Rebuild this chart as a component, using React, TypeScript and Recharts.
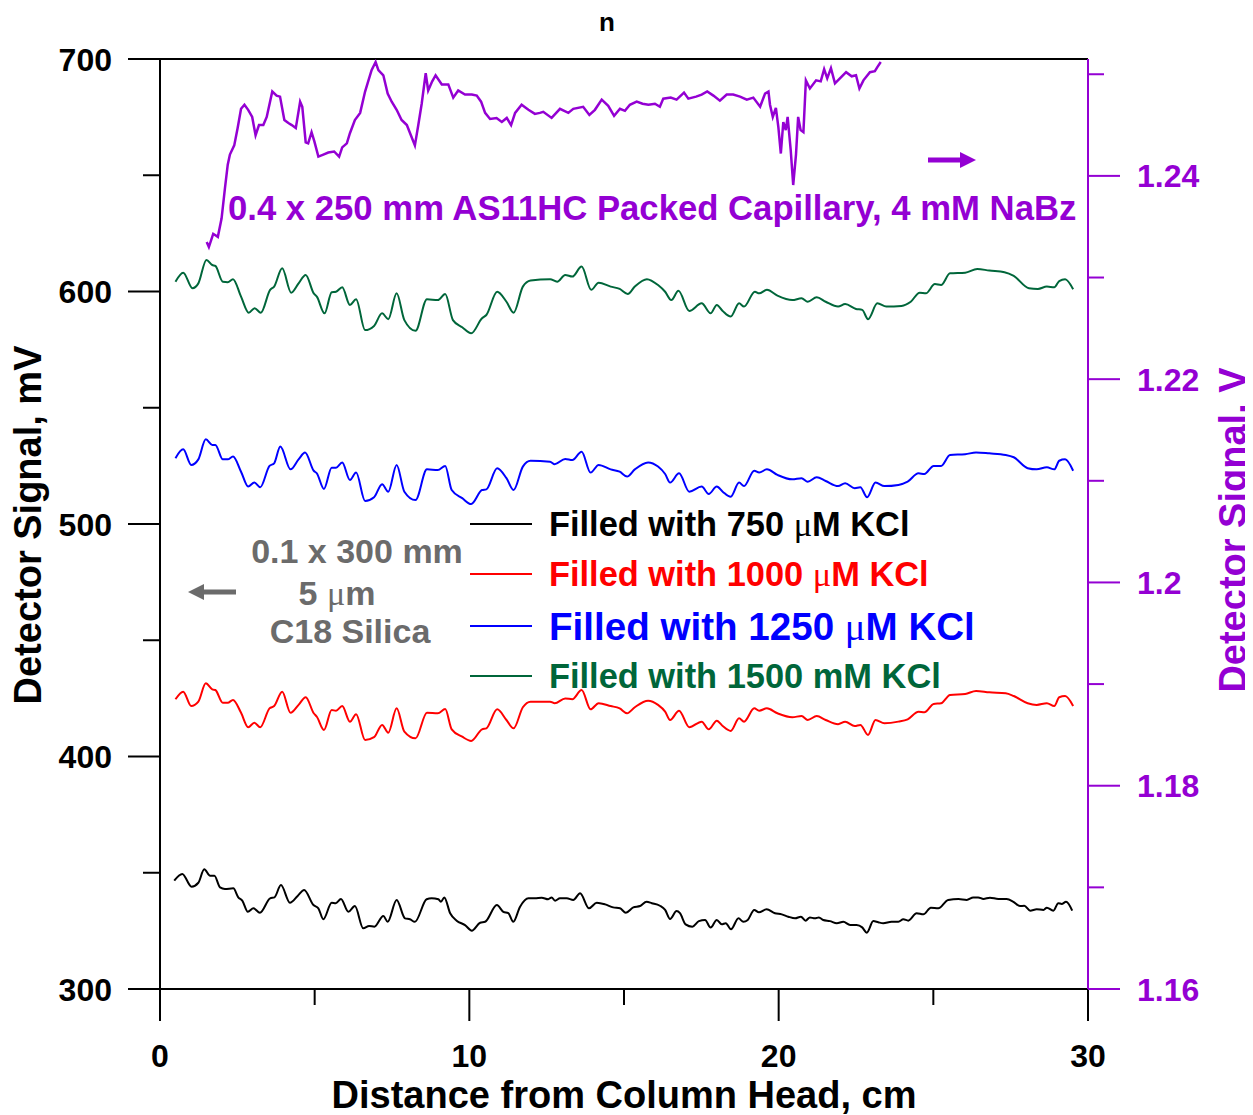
import React from 'react';
import { LineChart, Line, XAxis, YAxis, ReferenceLine } from 'recharts';

// ---------- data ----------
const xTicks = [0, 5, 10, 15, 20, 25, 30];
const leftTicks = [300, 350, 400, 450, 500, 550, 600, 650, 700];
const rightTicks = [1.16, 1.17, 1.18, 1.19, 1.2, 1.21, 1.22, 1.23, 1.24, 1.25];

const blackX = [0.46,0.72,1.02,1.24,1.43,1.62,1.76,1.94,2.10,2.37,2.53,2.66,2.84,3.02,3.23,3.56,3.70,3.91,4.20,4.45,4.66,4.96,5.12,5.28,5.55,5.68,5.85,6.09,6.30,6.57,6.76,6.93,7.22,7.36,7.65,7.92,8.08,8.24,8.62,8.78,9.00,9.08,9.19,9.38,9.59,9.86,10.08,10.35,10.51,10.89,11.10,11.26,11.42,11.64,11.91,12.12,12.34,12.55,12.66,12.77,12.93,13.15,13.36,13.58,13.87,14.12,14.39,14.65,14.87,15.06,15.30,15.52,15.73,15.90,16.16,16.33,16.49,16.70,16.81,16.99,17.21,17.42,17.62,17.80,18.00,18.16,18.29,18.46,18.70,18.86,19.00,19.21,19.36,19.61,19.88,20.10,20.31,20.53,20.72,20.87,21.01,21.17,21.30,21.44,21.66,21.88,22.09,22.31,22.52,22.70,22.85,23.06,23.22,23.38,23.65,23.87,24.03,24.19,24.46,24.68,24.92,25.16,25.48,25.81,26.08,26.29,26.45,26.62,26.83,27.10,27.37,27.59,27.80,27.94,28.13,28.34,28.56,28.67,28.88,29.04,29.15,29.29,29.49];
const blackY = [346.6,349.5,344.0,345.7,351.5,348.7,348.7,343.7,343.0,343.3,339.4,338.0,333.2,334.7,332.8,339.0,339.4,344.7,337.1,340.0,342.6,336.1,334.7,330.0,337.1,336.9,338.7,333.2,335.7,326.1,327.1,326.8,331.4,328.9,338.3,330.4,330.0,328.9,338.6,339.0,338.6,337.5,339.4,332.6,329.4,327.5,325.1,328.5,328.9,336.1,333.2,332.6,328.9,335.4,339.0,339.0,339.3,338.6,339.4,338.0,339.0,339.0,338.3,341.2,334.7,337.1,336.4,335.1,334.7,332.8,335.1,335.7,337.5,336.9,335.8,334.0,330.1,333.5,332.6,327.8,326.8,329.2,329.7,326.4,329.7,327.8,328.3,325.7,330.4,328.9,329.7,334.0,333.0,334.3,332.6,332.1,331.1,330.4,331.1,329.4,330.8,330.4,330.8,329.7,329.2,328.3,328.9,327.5,327.5,326.5,324.2,329.2,328.7,328.3,328.9,328.9,330.0,329.4,332.6,332.1,335.0,334.7,338.3,338.7,338.3,339.4,339.4,338.7,339.3,338.7,338.7,337.5,335.7,335.8,333.7,334.3,334.0,335.0,333.7,336.9,336.6,337.5,333.7];

const greenX = [0.50,0.75,1.05,1.24,1.50,1.69,1.79,2.03,2.19,2.36,2.62,2.87,3.06,3.26,3.56,3.69,3.95,4.24,4.48,4.71,4.97,5.07,5.32,5.55,5.69,5.89,6.14,6.34,6.63,6.92,7.18,7.38,7.65,7.90,8.26,8.63,8.98,9.22,9.47,9.77,10.06,10.41,10.55,10.90,11.20,11.43,11.73,11.98,12.61,12.84,13.10,13.33,13.63,13.94,14.18,14.57,14.86,15.12,15.35,15.74,16.10,16.33,16.53,16.76,17.11,17.51,17.80,18.00,18.19,18.45,18.72,18.88,19.23,19.37,19.62,19.96,20.44,20.74,20.94,21.23,21.52,21.92,22.15,22.50,22.70,22.89,23.19,23.48,23.97,24.27,24.56,24.76,25.05,25.25,25.54,26.03,26.42,26.81,27.30,27.60,28.09,28.38,28.67,28.91,29.07,29.26,29.52];
const greenY = [604.2,608.1,601.4,603.5,613.6,611.4,611.0,604.2,604.0,605.3,597.8,590.9,592.8,590.9,600.7,602.1,610.0,599.5,603.5,607.1,599.2,597.8,590.6,599.7,599.9,601.8,594.2,596.7,583.4,585.2,590.6,588.1,599.2,587.7,583.1,596.7,596.3,598.9,587.7,584.6,582.0,588.5,589.9,599.9,595.6,590.9,602.1,604.7,605.3,604.2,607.1,606.4,610.7,600.7,603.8,602.1,601.1,598.9,602.1,605.3,602.8,599.9,596.3,600.3,591.6,594.9,590.6,594.2,591.6,589.2,594.9,593.5,599.9,599.2,600.7,598.2,596.3,597.1,595.6,597.5,595.6,593.5,594.6,592.5,592.1,588.1,594.9,593.5,593.8,595.6,599.5,599.2,603.2,602.8,607.8,608.1,609.7,609.0,608.3,606.7,601.4,601.1,602.1,601.8,604.5,605.3,601.0];

const blueX = [0.50,0.75,1.01,1.24,1.48,1.69,1.79,2.03,2.19,2.36,2.62,2.85,3.05,3.24,3.54,3.69,3.89,4.22,4.48,4.69,4.97,5.07,5.30,5.55,5.69,5.89,6.14,6.34,6.63,6.92,7.18,7.38,7.65,7.90,8.26,8.63,8.98,9.22,9.43,9.77,10.06,10.41,10.55,10.90,11.20,11.43,11.73,11.98,12.61,12.76,13.10,13.33,13.63,13.92,14.18,14.57,14.86,15.10,15.35,15.78,16.10,16.33,16.49,16.78,17.11,17.51,17.74,18.00,18.19,18.45,18.72,18.88,19.21,19.37,19.62,19.96,20.44,20.74,20.94,21.23,21.52,21.92,22.15,22.46,22.64,22.86,23.13,23.42,23.87,24.17,24.52,24.71,25.01,25.25,25.54,26.03,26.38,26.81,27.34,27.60,28.05,28.34,28.67,28.91,29.07,29.26,29.52];
const blueY = [528.3,532.1,525.4,527.8,536.4,534.0,534.0,527.8,527.8,529.0,522.5,516.1,517.8,515.8,525.0,526.1,533.3,523.5,527.8,530.7,522.9,521.8,515.1,524.2,524.2,526.4,518.9,522.1,509.9,511.5,517.1,513.9,525.4,513.9,510.3,523.5,523.2,525.0,514.6,511.1,508.6,514.6,514.9,524.0,519.7,514.6,524.7,527.2,526.8,525.7,528.0,527.5,531.1,522.1,525.4,523.5,522.5,520.4,523.5,526.5,524.7,521.5,517.8,521.8,513.9,516.1,512.9,516.1,513.9,511.7,517.8,516.3,522.9,522.1,523.5,521.1,519.2,519.7,518.2,520.1,518.5,516.3,517.5,515.4,515.8,511.5,517.8,516.3,516.8,518.2,521.8,521.5,525.0,525.0,529.7,530.0,530.8,530.4,529.7,528.7,524.0,523.5,524.4,523.5,527.2,527.8,522.9];

const redX = [0.50,0.75,1.01,1.24,1.48,1.69,1.79,2.03,2.19,2.36,2.62,2.85,3.05,3.24,3.54,3.69,3.95,4.22,4.48,4.71,4.97,5.07,5.30,5.55,5.69,5.89,6.14,6.34,6.63,6.92,7.18,7.38,7.65,7.90,8.26,8.63,8.98,9.22,9.43,9.77,10.06,10.41,10.55,10.90,11.20,11.43,11.73,11.98,12.61,12.76,13.10,13.33,13.63,13.92,14.18,14.57,14.86,15.10,15.35,15.78,16.10,16.33,16.49,16.78,17.11,17.51,17.74,18.00,18.19,18.45,18.72,18.88,19.21,19.37,19.62,19.96,20.44,20.74,20.94,21.23,21.52,21.92,22.15,22.46,22.64,22.89,23.13,23.42,23.87,24.17,24.52,24.71,25.01,25.25,25.54,26.03,26.38,26.81,27.34,27.60,28.05,28.34,28.67,28.91,29.07,29.26,29.52];
const redY = [424.6,427.9,421.7,423.6,431.5,428.9,428.6,423.1,423.1,424.3,418.8,412.6,414.5,412.6,420.7,421.7,427.9,418.8,422.2,425.5,418.6,417.1,411.4,420.0,419.7,421.7,415.0,418.2,407.1,408.3,413.6,410.2,420.7,410.7,407.8,418.8,418.6,420.4,411.7,408.5,406.7,411.7,412.1,420.3,415.7,412.1,421.2,423.6,423.6,422.9,425.0,424.6,428.6,420.3,422.9,421.7,420.7,418.6,421.2,424.0,422.2,419.3,415.7,419.7,412.6,415.0,411.7,415.4,413.1,411.0,416.4,415.0,420.7,419.7,420.7,418.6,416.9,417.4,415.7,417.4,415.7,413.9,415.0,413.1,413.6,409.3,415.7,414.3,415.0,416.0,419.3,419.0,422.6,422.9,426.5,426.9,428.2,427.6,427.2,426.0,422.9,422.2,422.9,421.7,425.5,426.0,421.7];

const purpleX = [1.51,1.58,1.72,1.87,1.99,2.10,2.19,2.26,2.40,2.51,2.62,2.73,2.85,2.98,3.09,3.20,3.34,3.45,3.63,3.77,3.88,4.02,4.15,4.26,4.39,4.53,4.60,4.71,4.79,4.90,4.99,5.12,5.28,5.44,5.63,5.79,5.89,6.04,6.14,6.30,6.47,6.63,6.73,6.84,6.97,7.06,7.22,7.36,7.49,7.65,7.81,7.98,8.11,8.24,8.35,8.46,8.59,8.67,8.80,8.91,9.11,9.32,9.48,9.64,9.86,10.08,10.24,10.38,10.51,10.67,10.88,11.05,11.21,11.35,11.48,11.69,11.91,12.12,12.28,12.39,12.66,12.93,13.20,13.36,13.68,13.88,14.06,14.28,14.49,14.68,14.87,15.03,15.19,15.41,15.60,15.79,16.00,16.16,16.27,16.51,16.70,16.94,17.08,17.33,17.51,17.69,17.89,18.10,18.32,18.53,18.75,18.97,19.18,19.40,19.56,19.67,19.72,19.81,19.91,19.99,20.07,20.15,20.23,20.29,20.39,20.47,20.56,20.63,20.71,20.80,20.88,21.01,21.21,21.36,21.47,21.57,21.69,21.82,21.98,22.18,22.36,22.50,22.61,22.74,22.95,23.11,23.19,23.30];
const purpleY = [1.2335,1.2330,1.2343,1.2340,1.2358,1.2388,1.2411,1.2421,1.2430,1.2447,1.2466,1.2470,1.2465,1.2458,1.2440,1.2450,1.2450,1.2458,1.2483,1.2479,1.2478,1.2455,1.2452,1.2450,1.2447,1.2473,1.2468,1.2433,1.2432,1.2443,1.2434,1.2419,1.2421,1.2423,1.2424,1.2419,1.2428,1.2432,1.2442,1.2455,1.2462,1.2483,1.2493,1.2504,1.2512,1.2504,1.2499,1.2481,1.2473,1.2465,1.2455,1.2450,1.2440,1.2430,1.2450,1.2471,1.2501,1.2484,1.2493,1.2499,1.2490,1.2490,1.2477,1.2484,1.2480,1.2480,1.2479,1.2473,1.2462,1.2456,1.2457,1.2453,1.2457,1.2450,1.2462,1.2470,1.2465,1.2461,1.2462,1.2463,1.2457,1.2466,1.2462,1.2466,1.2468,1.2460,1.2465,1.2475,1.2469,1.2459,1.2466,1.2464,1.2470,1.2473,1.2471,1.2470,1.2471,1.2468,1.2476,1.2477,1.2475,1.2482,1.2476,1.2478,1.2480,1.2483,1.2479,1.2474,1.2480,1.2480,1.2478,1.2475,1.2477,1.2468,1.2481,1.2483,1.2470,1.2458,1.2467,1.2448,1.2422,1.2453,1.2445,1.2458,1.2425,1.2391,1.2421,1.2458,1.2445,1.2443,1.2494,1.2486,1.2494,1.2493,1.2505,1.2496,1.2506,1.2491,1.2496,1.2502,1.2498,1.2499,1.2486,1.2494,1.2502,1.2503,1.2507,1.2512];

// ---------- styling ----------
const W = 1237;
const H = 1107;
const PURPLE = '#9400d3';
const GREEN = '#00663a';
const GRAY = '#6b6b6b';
const FONT = 'Arial, "Liberation Sans", Helvetica, sans-serif';
const SERIF = '"Liberation Serif", "DejaVu Serif", serif';

const zip = (xs: number[], ys: number[]) => xs.map((x, i) => ({ x, y: ys[i] }));

const kcl750 = zip(blackX, blackY);
const kcl1000 = zip(redX, redY);
const kcl1250 = zip(blueX, blueY);
const kcl1500 = zip(greenX, greenY);
const nabz = zip(purpleX, purpleY);

const LeftTick = (props: any) => {
  const { x, y, payload } = props;
  const v = payload.value;
  const major = Math.round(v) % 100 === 0;
  const len = major ? 32 : 17;
  return (
    <g>
      <line x1={x} y1={y} x2={x - len} y2={y} stroke="#000" strokeWidth={2} />
      {major && (
        <text x={x - 48} y={y} dy="0.36em" textAnchor="end" fontSize={32} fontWeight="bold" fill="#000" fontFamily={FONT}>
          {v}
        </text>
      )}
    </g>
  );
};

const RightTick = (props: any) => {
  const { x, y, payload } = props;
  const v = payload.value;
  const major = Math.round(v * 100) % 2 === 0;
  const len = major ? 32 : 16;
  return (
    <g>
      <line x1={x} y1={y} x2={x + len} y2={y} stroke={PURPLE} strokeWidth={2} />
      {major && (
        <text x={x + 49} y={y} dy="0.36em" textAnchor="start" fontSize={32} fontWeight="bold" fill={PURPLE} fontFamily={FONT}>
          {String(Number(v.toFixed(2)))}
        </text>
      )}
    </g>
  );
};

const BottomTick = (props: any) => {
  const { x, y, payload } = props;
  const v = payload.value;
  const major = Math.round(v) % 10 === 0;
  const len = major ? 32 : 16;
  return (
    <g>
      <line x1={x} y1={y} x2={x} y2={y + len} stroke="#000" strokeWidth={2} />
      {major && (
        <text x={x} y={y + 66} dy="0.36em" textAnchor="middle" fontSize={32} fontWeight="bold" fill="#000" fontFamily={FONT}>
          {v}
        </text>
      )}
    </g>
  );
};

const legendRows = [
  { label: 'Filled with 750 ', unit: 'μ', rest: 'M KCl', color: '#000', size: 34.4, y: 516 },
  { label: 'Filled with 1000 ', unit: 'μ', rest: 'M KCl', color: '#ff0000', size: 34.4, y: 566 },
  { label: 'Filled with 1250 ', unit: 'μ', rest: 'M KCl', color: '#0000ff', size: 38.6, y: 618 },
  { label: 'Filled with 1500 ', unit: 'm', rest: 'M KCl', color: GREEN, size: 34.4, y: 668 },
];

export default function App() {
  return (
    <div style={{ position: 'relative', width: W, height: H, fontFamily: FONT }}>
      <LineChart width={W} height={H} margin={{ top: 51, right: 0, bottom: 0, left: 0 }}>
        <XAxis
          xAxisId="x"
          type="number"
          dataKey="x"
          domain={[0, 30]}
          ticks={xTicks}
          interval={0}
          height={126}
          tickLine={false}
          tickSize={0}
          tickMargin={0}
          tick={(p: any) => <BottomTick {...p} />}
          axisLine={{ stroke: '#000', strokeWidth: 2 }}
          allowDataOverflow
        />
        <YAxis
          yAxisId="left"
          orientation="left"
          type="number"
          domain={[300, 700]}
          ticks={leftTicks}
          interval={0}
          width={152}
          tickLine={false}
          tickSize={0}
          tickMargin={0}
          tick={(p: any) => <LeftTick {...p} />}
          axisLine={{ stroke: '#000', strokeWidth: 2 }}
          allowDataOverflow
        />
        <YAxis
          yAxisId="right"
          orientation="right"
          type="number"
          domain={[1.16, 1.2515]}
          ticks={rightTicks}
          interval={0}
          width={157}
          tickLine={false}
          tickSize={0}
          tickMargin={0}
          tick={(p: any) => <RightTick {...p} />}
          axisLine={{ stroke: PURPLE, strokeWidth: 2 }}
          allowDataOverflow
        />
        <ReferenceLine xAxisId="x" yAxisId="left" y={700} stroke="#000" strokeWidth={2} />
        <Line xAxisId="x" yAxisId="left" data={kcl750} dataKey="y" type="monotone" stroke="#000" strokeWidth={2} dot={false} isAnimationActive={false} />
        <Line xAxisId="x" yAxisId="left" data={kcl1000} dataKey="y" type="monotone" stroke="#ff0000" strokeWidth={2} dot={false} isAnimationActive={false} />
        <Line xAxisId="x" yAxisId="left" data={kcl1250} dataKey="y" type="monotone" stroke="#0000ff" strokeWidth={2} dot={false} isAnimationActive={false} />
        <Line xAxisId="x" yAxisId="left" data={kcl1500} dataKey="y" type="monotone" stroke={GREEN} strokeWidth={2} dot={false} isAnimationActive={false} />
        <Line xAxisId="x" yAxisId="right" data={nabz} dataKey="y" type="linear" stroke={PURPLE} strokeWidth={2.5} dot={false} isAnimationActive={false} />
      </LineChart>
      <svg
        width={W}
        height={H}
        style={{ position: 'absolute', left: 0, top: 0, pointerEvents: 'none', overflow: 'visible' }}
        fontFamily={FONT}
        fontWeight="bold"
      >
        <text x={599} y={14} dy="0.36em" textAnchor="middle" fontSize={26} fill="#000">n</text>
        <text x={19} y={517} dy="0.36em" textAnchor="middle" fontSize={38} fill="#000" transform="rotate(-90 19 517)">
          Detector Signal, mV
        </text>
        <text x={1224} y={522} dy="0.36em" textAnchor="middle" fontSize={38} fill={PURPLE} transform="rotate(-90 1224 522)">
          Detector Signal, V
        </text>
        <text x={616} y={1086} dy="0.36em" textAnchor="middle" fontSize={38} fill="#000">
          Distance from Column Head, cm
        </text>
        <text x={220} y={200} dy="0.36em" textAnchor="start" fontSize={34.7} fill={PURPLE}>
          0.4 x 250 mm AS11HC Packed Capillary, 4 mM NaBz
        </text>
        <line x1={920} y1={152} x2={954} y2={152} stroke={PURPLE} strokeWidth={5} />
        <polygon points="952,144 968,152 952,160" fill={PURPLE} />
        <text x={349} y={543} dy="0.36em" textAnchor="middle" fontSize={34} fill={GRAY}>0.1 x 300 mm</text>
        <text x={329} y={585} dy="0.36em" textAnchor="middle" fontSize={34} fill={GRAY}>
          5 <tspan fontFamily={SERIF} fontWeight="normal">μ</tspan>m
        </text>
        <text x={342} y={623} dy="0.36em" textAnchor="middle" fontSize={34} fill={GRAY}>C18 Silica</text>
        <line x1={194} y1={584} x2={228} y2={584} stroke={GRAY} strokeWidth={5} />
        <polygon points="196,576 180,584 196,592" fill={GRAY} />
        {legendRows.map((r) => (
          <g key={r.label + r.color}>
            <line x1={462} y1={r.y} x2={524} y2={r.y} stroke={r.color} strokeWidth={2} />
            <text x={541} y={r.y} dy="0.36em" fontSize={r.size} fill={r.color}>
              {r.label}
              {r.unit === 'μ' ? (
                <tspan fontFamily={SERIF} fontWeight="normal">μ</tspan>
              ) : (
                <tspan>{r.unit}</tspan>
              )}
              {r.rest}
            </text>
          </g>
        ))}
      </svg>
    </div>
  );
}
